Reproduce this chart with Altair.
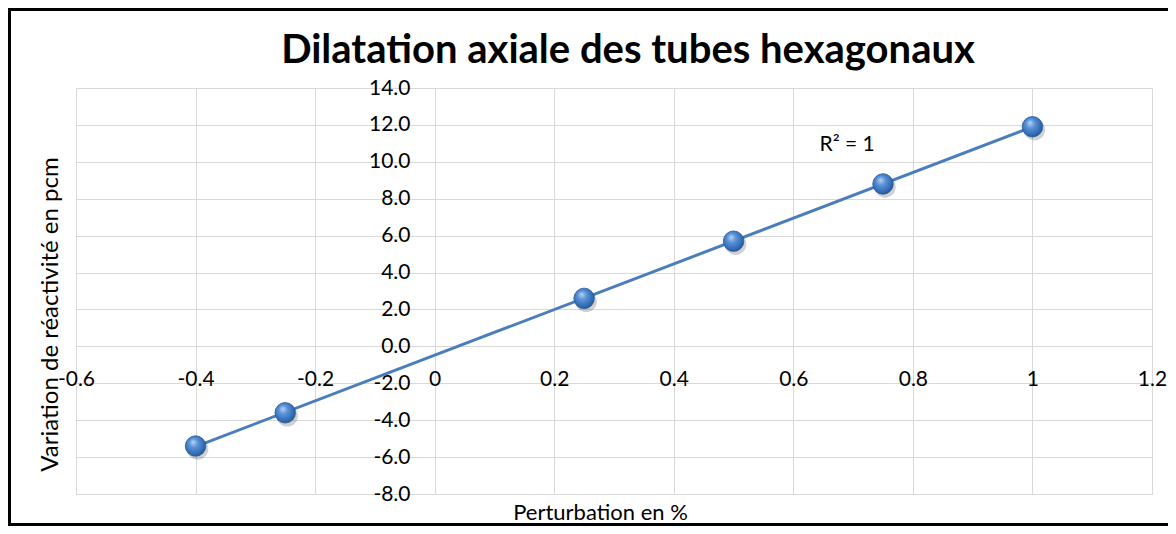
import altair as alt
import pandas as pd

# Data
perturbation = [-0.4, -0.25, 0.25, 0.5, 0.75, 1.0]
reactivite = [-5.4, -3.6, 2.6, 5.7, 8.8, 11.9]

x_ticks = [-0.6, -0.4, -0.2, 0.0, 0.2, 0.4, 0.6, 0.8, 1.0, 1.2]
y_ticks = [-8, -6, -4, -2, 0, 2, 4, 6, 8, 10, 12, 14]

r2_anchor_x = [0.69]
r2_anchor_y = [10.9]

title_text = "Dilatation axiale des tubes hexagonaux"
x_title = "Perturbation en %"
y_title = "Variation de réactivité en pcm"

FONT = "Lato"
W, H = 1076, 406

df = pd.DataFrame({"x": perturbation, "y": reactivite})

xscale = alt.Scale(domain=[-0.6, 1.2], nice=False, zero=False)
yscale = alt.Scale(domain=[-8, 14], nice=False, zero=False)

x_axis = alt.Axis(
    values=x_ticks,
    title=x_title,
    offset=-115,
    domain=False,
    ticks=False,
    tickSize=0,
    labelPadding=0,
    labelBaseline="middle",
    labelFlush=False,
    labelOverlap=False,
    labelExpr="datum.value < 0 ? '-' + format(-datum.value, '~g') : format(datum.value, '~g')",
    grid=True,
    gridColor="#d9d9d9",
    gridWidth=1,
    titleX=524,
    titleY=133,
    titleBaseline="middle",
    titleAlign="center",
    titleFontSize=22,
)
y_axis = alt.Axis(
    values=y_ticks,
    title=y_title,
    offset=-358,
    domain=False,
    ticks=False,
    tickSize=0,
    labelPadding=24,
    labelOverlap=False,
    labelFlush=False,
    labelExpr="datum.value < 0 ? '-' + format(-datum.value, '.1f') : format(datum.value, '.1f')",
    grid=True,
    gridColor="#d9d9d9",
    gridWidth=1,
    titleX=-384,
    titleY=226,
    titleBaseline="middle",
    titleAlign="center",
    titleAngle=270,
    titleFontSize=24,
)

x_enc = alt.X("x:Q", scale=xscale, axis=x_axis)
y_enc = alt.Y("y:Q", scale=yscale, axis=y_axis)

base = alt.Chart(df)

trend = base.transform_regression("x", "y").mark_line(
    color="#4a7ebb", strokeWidth=3
).encode(x=x_enc, y=y_enc)

shadow = base.mark_circle(size=460, color="#000000", opacity=0.18, xOffset=2, yOffset=3).encode(
    x=x_enc, y=y_enc
)

points = base.mark_circle(
    size=420,
    opacity=1,
    fill={
        "gradient": "radial",
        "x1": 0.38, "y1": 0.3, "r1": 0.0,
        "x2": 0.45, "y2": 0.45, "r2": 0.62,
        "stops": [
            {"offset": 0.0, "color": "#b9d5f5"},
            {"offset": 0.35, "color": "#5b93d8"},
            {"offset": 0.8, "color": "#2f68b0"},
            {"offset": 1.0, "color": "#1d4a86"},
        ],
    },
    stroke="#2a5a98",
    strokeWidth=0.8,
).encode(x=x_enc, y=y_enc)

r2_label = (
    base.transform_regression("x", "y", params=True)
    .transform_calculate(label="'R² = ' + format(datum.rSquared, '.0f')")
    .mark_text(font=FONT, fontSize=21, color="#000000", align="center", baseline="middle")
    .encode(
        x=alt.X(datum=r2_anchor_x[0], type="quantitative", scale=xscale, axis=x_axis),
        y=alt.Y(datum=r2_anchor_y[0], type="quantitative", scale=yscale, axis=y_axis),
        text="label:N",
    )
)

frame = alt.Chart(pd.DataFrame({"a": [0]})).mark_rect(
    fill=None, filled=False, stroke="#000000", strokeWidth=3
).encode(
    x=alt.value(-66.5), x2=alt.value(W + 40),
    y=alt.value(-78.5), y2=alt.value(H + 30.5),
)

chart = (
    alt.layer(trend, shadow, points, r2_label, frame)
    .properties(
        width=W,
        height=H,
        padding={"left": 68, "top": 80, "right": 16, "bottom": 32},
        autosize=alt.AutoSizeParams(type="none"),
        title=alt.TitleParams(
            text=title_text,
            font=FONT,
            fontSize=40,
            fontWeight="bold",
            color="#000000",
            anchor="middle",
            frame="group",
            baseline="middle",
            offset=-83,
            dx=14,
        ),
    )
    .configure(background="#ffffff")
    .configure_view(stroke="#d9d9d9", strokeWidth=1)
    .configure_axis(
        labelFont=FONT,
        labelFontSize=21,
        labelColor="#000000",
        labelOverlap=False,
        titleFont=FONT,
        titleFontWeight="normal",
        titleColor="#000000",
    )
)

chart.save("out.html", embed_options={"renderer": "svg", "actions": False})
